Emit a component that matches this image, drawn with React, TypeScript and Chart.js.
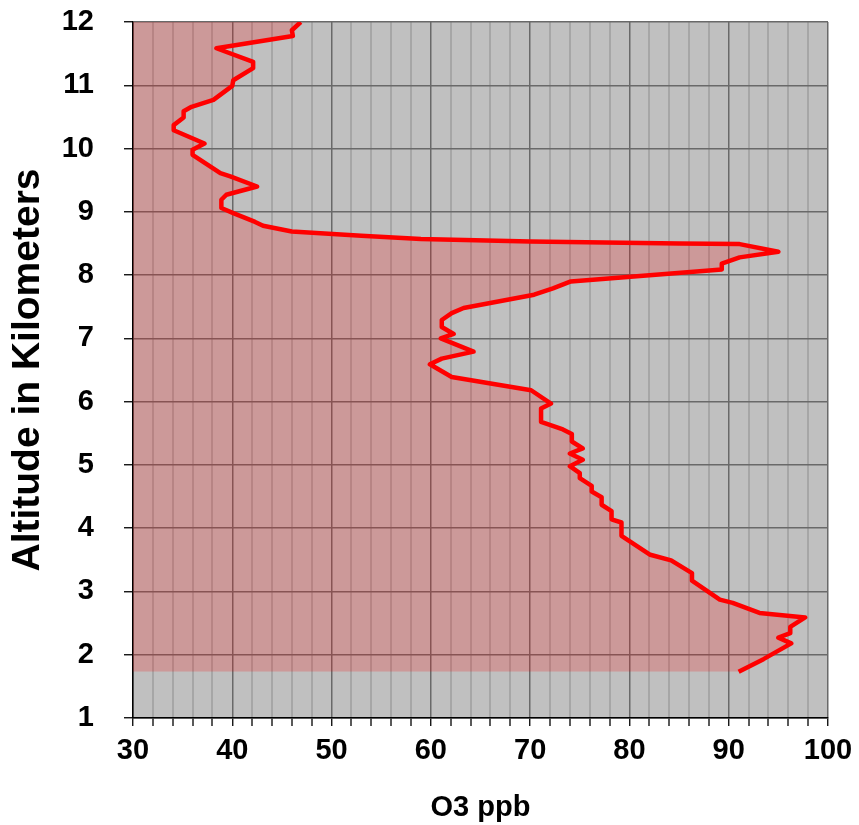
import React, { useEffect, useRef } from "react";
import { Chart, registerables } from "chart.js";

Chart.register(...registerables);

const altitudes = [
  1.73, 1.93, 2.18, 2.27, 2.34, 2.44, 2.59, 2.66, 2.82, 2.87, 3.17, 3.29, 3.49, 3.58,
  3.88, 4.09, 4.14, 4.27, 4.37, 4.49, 4.58, 4.67, 4.79, 4.87, 4.98, 5.08, 5.18, 5.26,
  5.37, 5.49, 5.56, 5.68, 5.89, 5.97, 6.18, 6.39, 6.59, 6.68, 6.79, 7.0, 7.07, 7.18,
  7.29, 7.4, 7.48, 7.69, 7.79, 7.9, 8.09, 8.18, 8.28, 8.37, 8.49, 8.5, 8.53, 8.57,
  8.62, 8.69, 8.78, 8.84, 8.98, 9.06, 9.19, 9.27, 9.4, 9.56, 9.61, 9.9, 9.98, 10.08,
  10.29, 10.37, 10.49, 10.59, 10.66, 10.77, 10.99, 11.08, 11.27, 11.37, 11.585, 11.78,
  11.87, 12.0,
];
const ozone = [
  91.0, 93.5, 96.3, 95.0, 96.2, 96.2, 97.7, 93.1, 90.4, 89.1, 86.3, 86.3, 84.2, 82.1,
  79.2, 79.2, 78.2, 78.2, 77.2, 77.2, 76.2, 76.2, 75.0, 75.0, 74.0, 75.3, 74.0, 75.3,
  74.2, 74.2, 73.3, 71.1, 71.1, 72.1, 70.1, 62.1, 59.9, 61.1, 64.3, 61.0, 62.3, 61.1,
  61.1, 62.1, 63.3, 70.4, 72.3, 74.1, 89.3, 89.3, 91.1, 95.0, 91.1, 85.0, 70.0, 59.0,
  53.0, 46.0, 43.1, 42.3, 40.1, 38.9, 38.9, 39.4, 42.5, 39.8, 38.8, 36.0, 36.0, 37.2,
  34.1, 34.1, 35.1, 35.1, 35.9, 38.1, 40.0, 40.1, 42.1, 42.1, 38.4, 46.1,
  46.0, 46.9,
];

const xMin = 30;
const xMax = 100;
const yMin = 1;
const yMax = 12;
const xTitle = "O3 ppb";
const yTitle = "Altitude in Kilometers";

const FONT = "'Liberation Sans', Arial, sans-serif";
const MAJOR = "#696969";
const MINOR = "#A6A6A6";

const plotBg = {
  id: "plotBg",
  beforeDraw(chart: any) {
    const { ctx, chartArea } = chart;
    ctx.save();
    ctx.fillStyle = "#C0C0C0";
    ctx.fillRect(chartArea.left, chartArea.top, chartArea.right - chartArea.left, chartArea.bottom - chartArea.top);
    ctx.restore();
  },
};

export default function App() {
  const ref = useRef<HTMLCanvasElement>(null);
  useEffect(() => {
    const canvas = ref.current;
    if (!canvas) return;
    const points = altitudes.map((a, i) => ({ x: ozone[i], y: a }));
    const chart = new Chart(canvas, {
      type: "line",
      data: {
        datasets: [
          {
            data: points,
            borderColor: "#FF0000",
            borderWidth: 4.5,
            backgroundColor: "rgba(255,0,0,0.2)",
            fill: { value: 30 },
            pointRadius: 0,
            tension: 0,
            borderJoinStyle: "round",
          },
        ],
      },
      options: {
        indexAxis: "y",
        responsive: false,
        animation: false,
        layout: { padding: { left: 0, top: 22, right: 31, bottom: 0 } },
        plugins: { legend: { display: false }, tooltip: { enabled: false } },
        scales: {
          x: {
            type: "linear",
            position: "bottom",
            min: xMin,
            max: xMax,
            afterFit(scale: any) {
              scale.height = 107;
              scale.paddingLeft = 0;
              scale.paddingRight = 0;
            },
            ticks: {
              stepSize: 2,
              autoSkip: false,
              maxRotation: 0,
              padding: 8,
              color: "#000",
              font: { family: FONT, size: 29, weight: "bold" },
              callback: (v: any) => (Number(v) % 10 === 0 ? String(v) : ""),
            },
            grid: {
              color: (c: any) => (c.tick && c.tick.value % 10 === 0 ? MAJOR : MINOR),
              lineWidth: (c: any) => (c.tick && c.tick.value % 10 === 0 ? 1.5 : 2),
              tickColor: "#000",
              tickLength: 8,
              tickWidth: 1.3,
            },
            border: { display: true, color: "#000", width: 1.5 },
            title: {
              display: true,
              text: xTitle,
              color: "#000",
              font: { family: FONT, size: 29, weight: "bold" },
              padding: { top: 0, bottom: 0 },
            },
          },
          y: {
            type: "linear",
            min: yMin,
            max: yMax,
            afterFit(scale: any) {
              scale.width = 133;
              scale.paddingTop = 0;
              scale.paddingBottom = 0;
            },
            ticks: {
              stepSize: 1,
              autoSkip: false,
              padding: 30,
              color: "#000",
              font: { family: FONT, size: 29, weight: "bold" },
            },
            grid: {
              color: MAJOR,
              lineWidth: 1.5,
              tickColor: "#000",
              tickLength: 9,
              tickWidth: 1.3,
            },
            border: { display: true, color: "#000", width: 1.5 },
            title: {
              display: true,
              text: yTitle,
              color: "#000",
              font: { family: FONT, size: 39, weight: "bold" },
              padding: { top: 5, bottom: 0 },
            },
          },
        },
      },
      plugins: [plotBg],
    } as any);
    return () => chart.destroy();
  }, []);
  return (
    <div style={{ position: "absolute", left: 0, top: 0, width: 859, height: 825, background: "#fff" }}>
      <canvas ref={ref} width={859} height={825} />
    </div>
  );
}
